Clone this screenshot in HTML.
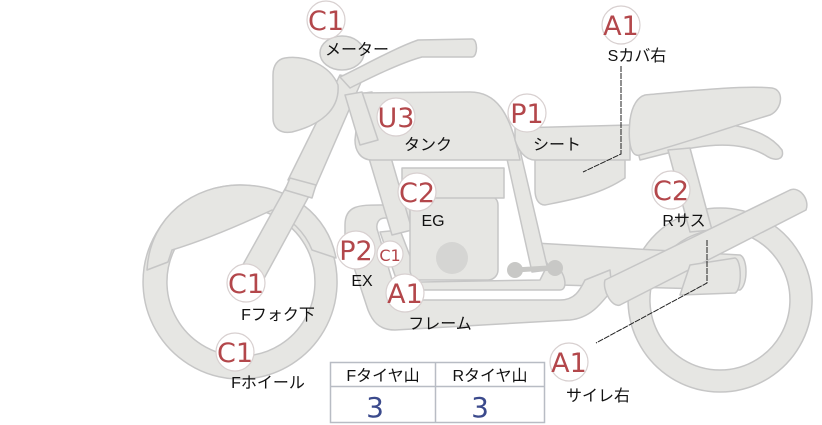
<!DOCTYPE html>
<html><head><meta charset="utf-8"><style>
html,body{margin:0;padding:0;background:#fff;}
svg{display:block;}
.s{fill:#e6e6e3;stroke:#c6c6c6;stroke-width:1.5;stroke-linejoin:round;}
.b{fill:#fff;stroke:#d8d0d0;stroke-width:1.2;}
.bt{fill:#b3474b;font-family:"DejaVu Sans","Liberation Sans",sans-serif;font-size:27px;text-anchor:middle;}
.lt{fill:#111;font-family:"Liberation Sans","Noto Sans CJK JP",sans-serif;font-size:16px;text-anchor:middle;}
</style></head><body>
<svg width="822" height="425" viewBox="0 0 822 425" xmlns="http://www.w3.org/2000/svg">
<!-- rear wheel -->
<path class="s" fill-rule="evenodd" d="M720,208 a92,92 0 1,0 0.1,0 Z M720,230 a70,70 0 1,1 -0.1,0 Z"/>
<!-- front wheel ring -->
<path class="s" fill-rule="evenodd" d="M240,185 a97,97 0 1,0 0.1,0 Z M241,208 a74,74 0 1,1 -0.1,0 Z"/>
<!-- front fender -->
<path class="s" d="M147,270 C150,215 195,185 240,185 C290,185 328,215 336,258 L312,250 C305,232 290,218 272,210 C240,225 205,240 172,250 L168,262 Z"/>
<!-- rear fender -->
<path class="s" d="M630,120 C700,120 760,120 782,150 C785,160 775,162 765,155 C730,135 680,150 640,160 Z"/>
<!-- shock -->
<path class="s" d="M668,150 L690,148 L712,230 L690,232 Z"/>
<!-- swingarm -->
<path class="s" d="M535,243 L740,255 C748,258 748,285 740,290 L560,285 Z"/>
<!-- frame lower loop -->
<path class="s" d="M345,225 C345,205 360,205 380,205 L410,205 L410,218 L385,218 C378,218 375,225 378,232 L395,290 C398,298 405,300 415,300 L560,300 C575,300 580,290 585,280 L610,270 L612,290 C600,305 590,318 570,320 L395,330 C378,330 372,320 368,310 L345,240 Z"/>
<path class="s" d="M380,232 L400,290 L560,290 C568,290 565,275 560,270 L545,270 L540,280 L420,282 L400,230 Z"/>
<!-- down tube -->
<path class="s" d="M350,95 L372,92 L412,230 L392,235 Z"/>
<!-- rear frame tube -->
<path class="s" d="M505,150 L520,150 L548,270 L532,272 Z"/>
<!-- side cover -->
<path class="s" d="M535,160 L625,150 L625,178 C600,195 570,200 545,205 C538,205 535,198 535,190 Z"/>
<!-- engine -->
<rect class="s" x="410" y="195" width="88" height="85" rx="10"/>
<rect class="s" x="402" y="168" width="102" height="30"/>
<circle cx="452" cy="258" r="16" fill="#d5d5d3"/>
<!-- footpeg -->
<path d="M515,270 L548,268" stroke="#c8c8c6" stroke-width="5"/>
<circle cx="515" cy="270" r="8" fill="#c8c8c6"/><circle cx="555" cy="268" r="8" fill="#c8c8c6"/>
<!-- tank -->
<path class="s" d="M360,93 L470,92 C495,92 510,110 520,160 L372,160 C360,160 355,150 355,140 Z"/>
<!-- seat -->
<path class="s" d="M515,128 L630,125 L630,160 L535,160 C525,160 518,150 515,140 Z"/>
<path class="s" d="M645,95 C680,92 740,85 772,88 C785,90 782,110 770,115 C720,130 680,145 640,155 C630,158 628,140 630,120 C632,105 638,97 645,95 Z"/>
<!-- muffler -->
<path class="s" d="M605,280 L790,190 C800,186 810,200 806,210 L620,305 C612,308 602,290 605,280 Z"/>
<path class="s" d="M690,265 L735,258 C742,260 742,290 735,293 L680,295 Z"/>
<!-- fork -->
<path class="s" d="M230,288 L290,180 L315,185 L255,295 Z"/>
<path class="s" d="M288,180 L340,75 L362,80 L315,188 Z"/>
<path class="s" d="M290,178 L316,185 L312,198 L285,190 Z"/>
<!-- front down tube near fork -->
<path class="s" d="M345,95 L362,92 L378,140 L360,145 Z"/>
<!-- headlight -->
<path class="s" d="M285,58 C305,55 330,65 338,85 C340,110 320,125 292,132 C280,134 273,128 273,118 L273,75 C273,65 278,59 285,58 Z"/>
<!-- meter -->
<ellipse class="s" cx="342" cy="53" rx="22" ry="17"/>
<!-- handlebar -->
<path class="s" d="M340,77 C365,65 395,48 418,40 L472,39 C478,39 478,57 472,57 L422,57 C400,63 370,78 350,88 Z"/>
<!-- leader lines -->
<path d="M621,66 L621,154 L583,172" stroke="#222" stroke-width="1" fill="none" stroke-dasharray="6,1"/>
<path d="M707,240 L707,283 L596,343" stroke="#222" stroke-width="1" fill="none" stroke-dasharray="6,1"/>
<!-- badges -->
<g>
<circle class="b" cx="326" cy="20" r="19"/><text class="bt" x="326" y="30">C1</text>
<circle class="b" cx="396" cy="117" r="19"/><text class="bt" x="396" y="127">U3</text>
<circle class="b" cx="527" cy="113" r="19"/><text class="bt" x="527" y="123">P1</text>
<circle class="b" cx="621" cy="25" r="19"/><text class="bt" x="621" y="35">A1</text>
<circle class="b" cx="417" cy="192" r="19"/><text class="bt" x="417" y="202">C2</text>
<circle class="b" cx="671" cy="190" r="19"/><text class="bt" x="671" y="200">C2</text>
<circle class="b" cx="356" cy="250" r="19"/><text class="bt" x="356" y="260">P2</text>
<circle class="b" cx="390" cy="254" r="13"/><text class="bt" x="390" y="261" style="font-size:16px">C1</text>
<circle class="b" cx="246" cy="283" r="19"/><text class="bt" x="246" y="293">C1</text>
<circle class="b" cx="405" cy="293" r="19"/><text class="bt" x="405" y="303">A1</text>
<circle class="b" cx="569" cy="362" r="19"/><text class="bt" x="569" y="372">A1</text>
<circle class="b" cx="235" cy="352" r="19"/><text class="bt" x="235" y="362">C1</text>
</g>
<!-- labels -->
<text class="lt" x="357" y="55">メーター</text>
<text class="lt" x="637" y="61">Sカバ右</text>
<text class="lt" x="428" y="150">タンク</text>
<text class="lt" x="557" y="150">シート</text>
<text class="lt" x="433" y="226">EG</text>
<text class="lt" x="684" y="226">Rサス</text>
<text class="lt" x="362" y="286">EX</text>
<text class="lt" x="278" y="320">Fフォク下</text>
<text class="lt" x="440" y="329">フレーム</text>
<text class="lt" x="268" y="388">Fホイール</text>
<text class="lt" x="598" y="401">サイレ右</text>
<!-- table -->
<rect x="330.5" y="362.5" width="214" height="60" fill="#fff" stroke="#b8bcc4" stroke-width="1.5"/>
<line x1="330" y1="386.5" x2="545" y2="386.5" stroke="#b8bcc4" stroke-width="1.5"/>
<line x1="435.5" y1="362" x2="435.5" y2="423" stroke="#b8bcc4" stroke-width="1.5"/>
<text class="lt" x="383" y="381">Fタイヤ山</text>
<text class="lt" x="490" y="381">Rタイヤ山</text>
<text x="375" y="417" style="fill:#3b4a8c;font-family:'DejaVu Sans',sans-serif;font-size:28px;text-anchor:middle">3</text>
<text x="480" y="417" style="fill:#3b4a8c;font-family:'DejaVu Sans',sans-serif;font-size:28px;text-anchor:middle">3</text>
</svg>
</body></html>
